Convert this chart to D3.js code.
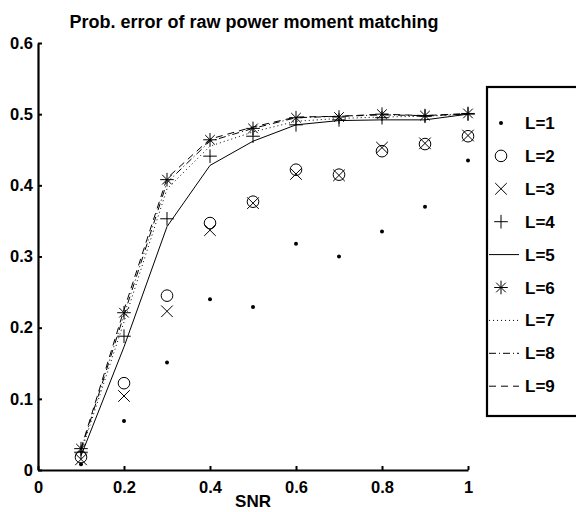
<!DOCTYPE html>
<html>
<head>
<meta charset="utf-8">
<script src="https://cdn.jsdelivr.net/npm/d3@7"></script>
<style>
  body { margin: 0; background: #fff; }
  text { font-family: "Liberation Sans", Arial, sans-serif; font-weight: bold; }
</style>
</head>
<body>
<svg id="chart" width="576" height="512"></svg>
<script>
const snr = [0.1, 0.2, 0.3, 0.4, 0.5, 0.6, 0.7, 0.8, 0.9, 1.0];
const L1 = [0.008, 0.069, 0.151, 0.240, 0.229, 0.318, 0.300, 0.335, 0.370, 0.435];
const L2 = [0.018, 0.122, 0.245, 0.347, 0.377, 0.422, 0.415, 0.448, 0.458, 0.469];
const L3 = [0.015, 0.104, 0.223, 0.337, 0.375, 0.416, 0.414, 0.453, 0.459, 0.470];
const L4 = [0.025, 0.188, 0.353, 0.441, 0.469, 0.485, 0.492, 0.495, 0.497, 0.500];
const L5 = [0.020, 0.173, 0.342, 0.428, 0.462, 0.485, 0.491, 0.492, 0.492, 0.500];
const L6 = [0.030, 0.221, 0.408, 0.464, 0.480, 0.495, 0.496, 0.500, 0.498, 0.501];
const L7 = [0.025, 0.208, 0.395, 0.455, 0.475, 0.490, 0.494, 0.496, 0.497, 0.500];
const L8 = [0.028, 0.218, 0.404, 0.462, 0.480, 0.495, 0.497, 0.499, 0.498, 0.500];
const L9 = [0.030, 0.225, 0.410, 0.465, 0.482, 0.496, 0.497, 0.500, 0.498, 0.501];
const xTicks = [0, 0.2, 0.4, 0.6, 0.8, 1];
const yTicks = [0, 0.1, 0.2, 0.3, 0.4, 0.5, 0.6];

const series = [
  { name: "L=1", values: L1, marker: "dot" },
  { name: "L=2", values: L2, marker: "circle" },
  { name: "L=3", values: L3, marker: "x" },
  { name: "L=4", values: L4, marker: "plus" },
  { name: "L=5", values: L5, dash: null },
  { name: "L=6", values: L6, marker: "star" },
  { name: "L=7", values: L7, dash: "1,3" },
  { name: "L=8", values: L8, dash: "7,3,1,3" },
  { name: "L=9", values: L9, dash: "7,5" }
];

const svg = d3.select("#chart");
const x = d3.scaleLinear().domain([0, 1]).range([38, 468]);
const y = d3.scaleLinear().domain([0, 0.6]).range([470, 43]);

// markers
function drawMarker(g, type, cx, cy) {
  if (type === "dot") {
    g.append("circle").attr("cx", cx).attr("cy", cy).attr("r", 2).attr("fill", "#000");
  } else if (type === "circle") {
    g.append("circle").attr("cx", cx).attr("cy", cy).attr("r", 5.8)
      .attr("fill", "none").attr("stroke", "#000").attr("stroke-width", 1);
  } else if (type === "x") {
    const s = 5.8;
    g.append("path").attr("d", `M${cx - s},${cy - s}L${cx + s},${cy + s}M${cx - s},${cy + s}L${cx + s},${cy - s}`)
      .attr("stroke", "#000").attr("stroke-width", 1).attr("fill", "none");
  } else if (type === "plus") {
    const s = 6.8;
    g.append("path").attr("d", `M${cx - s},${cy}L${cx + s},${cy}M${cx},${cy - s}L${cx},${cy + s}`)
      .attr("stroke", "#000").attr("stroke-width", 1).attr("fill", "none");
  } else if (type === "star") {
    const s = 6.8, d = 4.8;
    g.append("path").attr("d",
      `M${cx - s},${cy}L${cx + s},${cy}M${cx},${cy - s}L${cx},${cy + s}` +
      `M${cx - d},${cy - d}L${cx + d},${cy + d}M${cx - d},${cy + d}L${cx + d},${cy - d}`)
      .attr("stroke", "#000").attr("stroke-width", 1).attr("fill", "none");
  }
}

const line = d3.line().x((d, i) => x(snr[i])).y(d => y(d));
const plot = svg.append("g");

series.forEach(s => {
  if (s.marker) {
    s.values.forEach((v, i) => drawMarker(plot, s.marker, x(snr[i]), y(v)));
  } else {
    plot.append("path")
      .datum(s.values)
      .attr("d", line)
      .attr("fill", "none")
      .attr("stroke", "#000")
      .attr("stroke-width", 1)
      .attr("stroke-dasharray", s.dash);
  }
});

// axes (ticks pointing inward)
const xAxis = svg.append("g")
  .attr("transform", `translate(0,${y(0)})`)
  .call(d3.axisBottom(x).tickValues(xTicks).tickFormat(d3.format("~g"))
    .tickSizeInner(-4).tickSizeOuter(0).tickPadding(11));
const yAxis = svg.append("g")
  .attr("transform", `translate(${x(0)},0)`)
  .call(d3.axisLeft(y).tickValues(yTicks).tickFormat(d3.format("~g"))
    .tickSizeInner(-4).tickSizeOuter(0).tickPadding(5));

[xAxis, yAxis].forEach(a => {
  a.select(".domain").attr("stroke-width", 2.2);
  a.selectAll(".tick line").attr("stroke-width", 2);
  a.selectAll(".tick text").attr("font-size", 16.5).attr("fill", "#000")
    .attr("font-family", "Liberation Sans, Arial, sans-serif").attr("font-weight", "bold");
});

// title and label
svg.append("text").attr("x", 254).attr("y", 28).attr("text-anchor", "middle")
  .attr("font-size", 18).text("Prob. error of raw power moment matching");
svg.append("text").attr("x", 253).attr("y", 507).attr("text-anchor", "middle")
  .attr("font-size", 17).text("SNR");

// legend
const legend = svg.append("g");
legend.append("rect").attr("x", 487).attr("y", 87).attr("width", 100).attr("height", 329)
  .attr("fill", "#fff").attr("stroke", "#000").attr("stroke-width", 2.2);

series.forEach((s, i) => {
  const ly = 123 + i * 32.9;
  if (s.marker) {
    drawMarker(legend, s.marker, 501, ly);
  } else {
    legend.append("line").attr("x1", 489).attr("x2", 519).attr("y1", ly).attr("y2", ly)
      .attr("stroke", "#000").attr("stroke-width", 1).attr("stroke-dasharray", s.dash);
  }
  legend.append("text").attr("x", 525).attr("y", ly + 6)
    .attr("font-size", 17).text(s.name);
});
</script>
</body>
</html>
